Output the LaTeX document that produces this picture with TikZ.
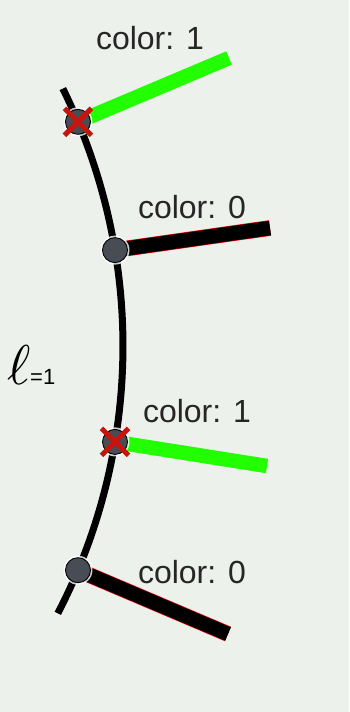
\documentclass[tikz,border=0pt]{standalone}
\usepackage{fontspec}
\setmainfont{Liberation Sans}
\usetikzlibrary{calc}
\definecolor{bg}{RGB}{237,241,235}
\definecolor{stickgreen}{RGB}{34,255,0}
\definecolor{nodegray}{RGB}{71,76,85}
\definecolor{xred}{RGB}{200,20,12}
\tikzset{
  curveline/.style={line width=7pt, black},
  greenstick/.style={line width=14.5pt, stickgreen, line cap=butt},
  blackstick/.style={line width=14.5pt, black, line cap=butt},
  redrim/.style={line width=15.7pt, red, line cap=butt},
  vertex/.style={circle, minimum size=25pt, inner sep=0pt, fill=nodegray, draw=black, line width=0.9pt},
  halo/.style={circle, minimum size=29pt, inner sep=0pt, fill=white, opacity=0.8},
  xmark/.style={line width=5pt, xred},
  lab/.style={font=\fontsize{32}{38}\selectfont, inner sep=0pt, text=black!85},
}
\begin{document}
\begin{tikzpicture}[x=1pt,y=1pt]
\fill[bg] (0,0) rectangle (349,-712);
\useasboundingbox (0,0) rectangle (349,-712);
\coordinate (C) at (-458,-346);
\coordinate (top) at ($(C)+(26.3:581)$);
\coordinate (v1) at ($(C)+(22.7:581)$);
\coordinate (v2) at ($(C)+(9.5:581)$);
\coordinate (v3) at ($(C)+(-9.5:581)$);
\coordinate (v4) at ($(C)+(-22.7:581)$);
\coordinate (e1) at (229,-58);
\coordinate (e2) at (270,-228);
\coordinate (e3) at (267,-466);
\coordinate (e4) at (228,-634);
% curve
\draw[curveline] (top) arc[start angle=26.3, end angle=-27.4, radius=581];
% sticks
\draw[greenstick] (v1) -- (e1);
\draw[redrim] (v2) -- (e2);
\draw[blackstick] (v2) -- (e2);
\draw[greenstick] (v3) -- (e3);
\draw[redrim] (v4) -- (e4);
\draw[blackstick] (v4) -- (e4);
% vertices
\foreach \v in {v1,v2,v3,v4} {
  \node[halo] at (\v) {};
  \node[vertex] (n\v) at (\v) {};
}
% crosses
\foreach \v in {v1,v3} {
  \draw[xmark] ($(\v)+(-13.5,13.5)$) -- ($(\v)+(13.5,-13.5)$);
  \draw[xmark] ($(\v)+(-13.5,-13.5)$) -- ($(\v)+(13.5,13.5)$);
}
% labels
\node[lab] (l1) at (150,-38) {color: 1};
\node[lab] (l2) at (192,-207) {color: 0};
\node[lab] (l3) at (197,-411) {color: 1};
\node[lab] (l4) at (192,-572) {color: 0};
\node[inner sep=0pt, anchor=base west, scale=5.6] (ell) at (6,-384) {$\ell$};
\node[inner sep=0pt, anchor=base west, font=\fontsize{22}{26}\selectfont] (sub) at (30,-384) {=1};
\end{tikzpicture}
\end{document}
